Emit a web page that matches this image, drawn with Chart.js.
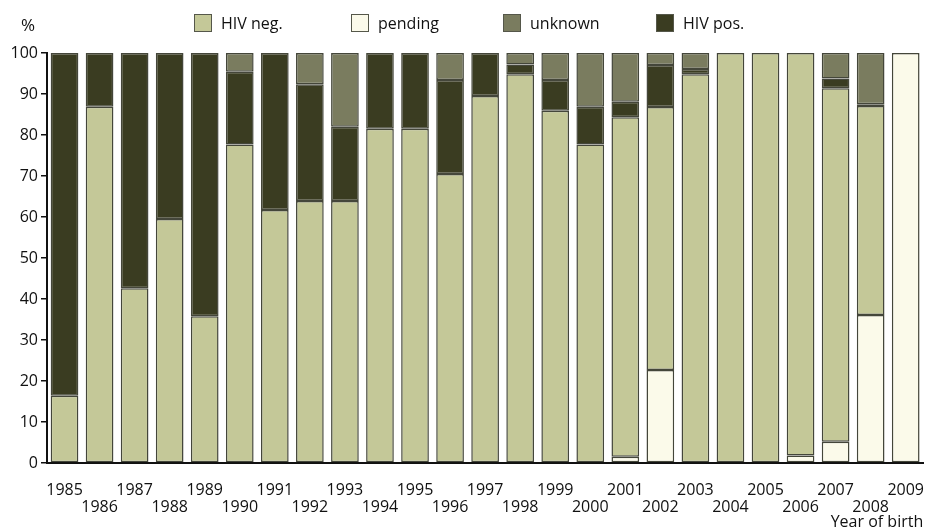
<!DOCTYPE html>
<html>
<head>
<meta charset="utf-8">
<script src="https://cdn.jsdelivr.net/npm/chart.js@4/dist/chart.umd.min.js"></script>
<style>
  body { margin: 0; background: #fff; }
  #wrap { position: relative; width: 935px; height: 531px; font-family: "Open Sans", sans-serif; color: #111; }
  canvas { position: absolute; left: 0; top: 0; }
  .pct { position: absolute; left: 21px; top: 13px; font-size: 17px; line-height: 24px; }
  .leg { position: absolute; top: 11px; display: flex; align-items: center; font-size: 16px; line-height: 24px; }
  .leg i { display: inline-block; width: 16px; height: 16px; border: 1.5px solid #55574a; margin-right: 9px; }
</style>
</head>
<body>
<div id="wrap">
  <canvas id="c" width="935" height="531"></canvas>
  <div class="pct">%</div>
  <div id="legend"></div>
</div>
<script>
// 출생연도
const years = ['1985','1986','1987','1988','1989','1990','1991','1992','1993','1994','1995','1996','1997',
  '1998','1999','2000','2001','2002','2003','2004','2005','2006','2007','2008','2009'];

// 각 항목 비율 (%)
const pending = [0,0,0,0,0, 0,0,0,0,0, 0,0,0,0,0, 0,1.5,22.7,0,0, 0,1.8,5.2,36.1,100];
const hivNeg  = [16.4,86.9,42.6,59.5,35.8, 77.7,61.7,63.9,63.9,81.5, 81.5,70.5,89.5,94.8,85.9,
  77.7,82.8,64.1,94.8,100, 100,98.2,86.2,51.0,0];
const hivPos  = [83.6,13.1,57.4,40.5,64.2, 17.7,38.3,28.5,18.1,18.5, 18.5,22.9,10.5,2.4,7.5,
  9.2,3.8,10.3,1.3,0, 0,0,2.4,0.4,0];
const unknown = [0,0,0,0,0, 4.6,0,7.6,18.0,0, 0,6.6,0,2.8,6.6, 13.1,11.9,2.9,3.9,0, 0,0,6.2,12.5,0];

const yTicks = [0,10,20,30,40,50,60,70,80,90,100];

const colors = {
  neg: '#c4c898',
  pending: '#fbfaea',
  unknown: '#7a7c5f',
  pos: '#3a3c21'
};

// 범례 (그림과 같은 순서)
const legendItems = [
  { label: 'HIV neg.', color: colors.neg, x: 194 },
  { label: 'pending', color: colors.pending, x: 351 },
  { label: 'unknown', color: colors.unknown, x: 503 },
  { label: 'HIV pos.', color: colors.pos, x: 656 }
];
const legendEl = document.getElementById('legend');
legendItems.forEach(it => {
  const d = document.createElement('div');
  d.className = 'leg';
  d.style.left = it.x + 'px';
  d.innerHTML = '<i style="background:' + it.color + '"></i><span>' + it.label + '</span>';
  legendEl.appendChild(d);
});

// 0 인 구간은 그리지 않음
const seg = arr => arr.map(v => (v === 0 ? null : v));

const barStyle = {
  borderColor: '#44463a',
  borderWidth: 1.5,
  borderSkipped: false,
  barPercentage: 0.79,
  categoryPercentage: 1.0
};

const font = { family: '"Open Sans", sans-serif', size: 16 };

new Chart(document.getElementById('c').getContext('2d'), {
  type: 'bar',
  data: {
    labels: years,
    datasets: [
      { label: 'pending', data: seg(pending), backgroundColor: colors.pending, ...barStyle },
      { label: 'HIV neg.', data: seg(hivNeg), backgroundColor: colors.neg, ...barStyle },
      { label: 'HIV pos.', data: seg(hivPos), backgroundColor: colors.pos, ...barStyle },
      { label: 'unknown', data: seg(unknown), backgroundColor: colors.unknown, ...barStyle }
    ]
  },
  options: {
    responsive: false,
    devicePixelRatio: 1,
    animation: false,
    layout: { padding: { top: 53, left: 0, right: 0, bottom: 0 } },
    plugins: {
      legend: { display: false },
      tooltip: { enabled: false }
    },
    scales: {
      x: {
        stacked: true,
        grid: { display: false },
        border: { display: true, color: '#111', width: 2 },
        ticks: {
          color: '#111',
          font: { ...font, lineHeight: '17px' },
          padding: 11,
          autoSkip: false,
          maxRotation: 0,
          callback: function (val, i) {
            const lab = this.getLabelForValue(val);
            return i % 2 === 0 ? [lab, ''] : ['', lab];
          }
        },
        title: {
          display: true,
          text: 'Year of birth',
          align: 'end',
          color: '#111',
          font: { ...font, lineHeight: '18px' },
          padding: 0
        },
        afterFit: s => { s.height = 68; }
      },
      y: {
        stacked: true,
        min: 0,
        max: 100,
        afterBuildTicks: s => { s.ticks = yTicks.map(v => ({ value: v })); },
        grid: {
          display: true,
          drawOnChartArea: false,
          drawTicks: true,
          tickLength: 6,
          color: '#111',
          lineWidth: 1.5
        },
        border: { display: true, color: '#111', width: 2 },
        ticks: { color: '#111', font: font, padding: 3 },
        afterFit: s => { s.width = 47; }
      }
    }
  }
});
</script>
</body>
</html>
